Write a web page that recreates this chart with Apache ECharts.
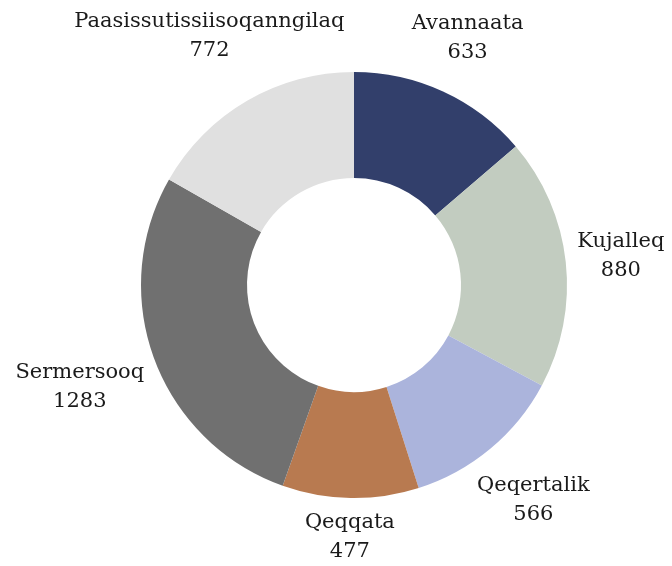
<!DOCTYPE html>
<html>
<head>
  <meta charset="utf-8">
  <title>ECharts</title>
  <script src="https://cdn.jsdelivr.net/npm/echarts@6/dist/echarts.min.js"></script>
  <style>
    html, body { margin: 0; padding: 0; background: #fff; }
    #main { width: 672px; height: 566px; }
  </style>
</head>
<body>
  <div id="main"></div>
  <script type="text/javascript">
    var regions = ['Avannaata', 'Kujalleq', 'Qeqertalik', 'Qeqqata', 'Sermersooq', 'Paasissutissiisoqanngilaq'];
    var counts = [633, 880, 566, 477, 1283, 772];
    var colors = ['#323f6b', '#c2ccc0', '#abb4dc', '#b87a50', '#707070', '#e0e0e0'];

    var cx = 354, cy = 285;
    var r0 = 107, r1 = 213;
    // labels sit just outside this circle, box edge touching it
    var labelRing = 222;
    var edgeTop = 7, edgeBottom = 0, edgeSide = 4;

    var myChart = echarts.init(document.getElementById('main'));
    var W = myChart.getWidth(), H = myChart.getHeight();

    var option = {
      animation: false,
      series: [{
        type: 'pie',
        center: [cx, cy],
        radius: [r0, r1],
        startAngle: 90,
        clockwise: true,
        avoidLabelOverlap: false,
        color: colors,
        label: {
          show: true,
          position: 'inside',
          formatter: '{b}\n{c}',
          color: '#1a1a1a',
          fontFamily: 'DejaVu Serif',
          fontSize: 21,
          lineHeight: 29,
          align: 'center'
        },
        labelLine: { show: false },
        labelLayout: function (params) {
          var lr = params.labelRect;
          var hw = lr.width / 2, hh = lr.height / 2;
          var lx = lr.x + hw;
          var ly = lr.y + hh;
          var vx = lx - cx, vy = ly - cy;
          var len = Math.sqrt(vx * vx + vy * vy) || 1;
          var ux = vx / len, uy = vy / len;
          var dist = labelRing + Math.abs(ux) * hw + Math.abs(uy) * hh;
          // slide back along the ray so the label stays inside the canvas
          if (uy < 0) dist = Math.min(dist, (cy - edgeTop - hh) / -uy);
          if (uy > 0) dist = Math.min(dist, (H - cy - edgeBottom - hh) / uy);
          if (ux < 0) dist = Math.min(dist, (cx - edgeSide - hw) / -ux);
          if (ux > 0) dist = Math.min(dist, (W - cx - edgeSide - hw) / ux);
          var move = dist - len;
          return { dx: ux * move, dy: uy * move };
        },
        data: regions.map(function (name, i) {
          return { name: name, value: counts[i] };
        })
      }]
    };
    myChart.setOption(option);
  </script>
</body>
</html>
